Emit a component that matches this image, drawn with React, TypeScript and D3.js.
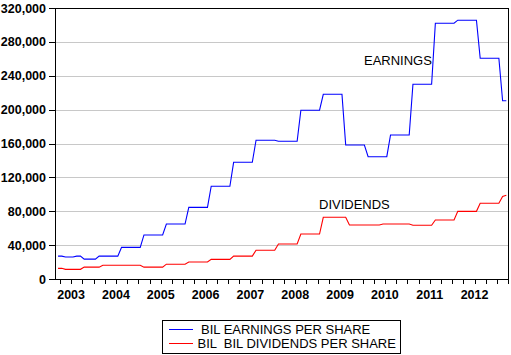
import React from 'react';
import * as d3 from 'd3';

// Monthly observations, March 2003 .. March 2013
const startYear = 2003;
const startMonth = 3;
const nObs = 121;

// Step runs: month index where each level begins, and the level
const earningsRunStarts = [0, 2, 5, 7, 11, 17, 23, 29, 35, 41, 47, 53, 59, 65, 71, 77, 83, 89, 95, 101, 107, 113, 119];
const earningsRunValues = [27000, 26000, 27000, 23500, 27000, 37400, 52000, 64900, 84600, 109500, 137800, 163800, 162600, 199300, 218100, 158200, 144400, 170000, 229900, 302000, 305600, 260600, 210500];

const dividendsRunStarts = [0, 2, 7, 12, 23, 29, 35, 41, 47, 53, 59, 65, 71, 78, 87, 95, 101, 107, 113, 119, 120];
const dividendsRunValues = [12600, 11400, 14000, 16300, 14000, 17500, 20000, 23200, 27000, 34000, 41300, 53100, 72900, 63800, 64900, 63400, 69700, 79900, 89400, 97500, 99000];

const yTicks = [0, 40000, 80000, 120000, 160000, 200000, 240000, 280000, 320000];
const yearLabels = [2003, 2004, 2005, 2006, 2007, 2008, 2009, 2010, 2011, 2012];
const seriesNames = ['BIL EARNINGS PER SHARE', 'BIL  BIL DIVIDENDS PER SHARE'];
const annotationTexts = ['EARNINGS', 'DIVIDENDS'];

function expandRuns(starts: number[], values: number[]): number[] {
  const out: number[] = [];
  let r = 0;
  for (let i = 0; i < nObs; i++) {
    while (r + 1 < starts.length && starts[r + 1] <= i) r++;
    out.push(values[r]);
  }
  return out;
}

const earnings = expandRuns(earningsRunStarts, earningsRunValues);
const dividends = expandRuns(dividendsRunStarts, dividendsRunValues);

const timeOf = (i: number) => startYear + (startMonth - 1 + i + 0.5) / 12;

const W = 511;
const H = 355;
const L = 55, R = 508, T = 8, B = 279;

export default function App() {
  const x = d3.scaleLinear().domain([2003.1405, 2013.2454]).range([L, R]);
  const y = d3.scaleLinear().domain([0, 320000]).range([B, T]);

  const line = d3.line<number>()
    .x((_, i) => x(timeOf(i)))
    .y((d) => y(d));

  const quarterTicks: number[] = [];
  for (let q = 2003.25; q <= 2013.25 + 1e-6; q += 0.25) quarterTicks.push(q);

  const font = "'Liberation Sans', Arial, sans-serif";

  return (
    <svg width={W} height={H} style={{ position: 'absolute', left: 0, top: 0, background: '#fff' }}
      fontFamily={font}>
      <rect x={0} y={0} width={W} height={H} fill="#fff" />
      {/* grid */}
      {yTicks.filter((v) => v > 0 && v < 320000).map((v) => (
        <line key={'g' + v} x1={L} x2={R} y1={Math.round(y(v)) + 0.5} y2={Math.round(y(v)) + 0.5}
          stroke="#c8c8c8" strokeWidth={1} shapeRendering="crispEdges" />
      ))}
      {/* y ticks & labels */}
      {yTicks.map((v) => (
        <g key={'y' + v}>
          <line x1={L - 6} x2={L} y1={Math.round(y(v)) + 0.5} y2={Math.round(y(v)) + 0.5}
            stroke="#000" shapeRendering="crispEdges" />
          <text x={46} y={y(v)} dy="0.36em" textAnchor="end" fontWeight="bold" fontSize={12.5} fill="#000">
            {d3.format(',')(v)}
          </text>
        </g>
      ))}
      {/* x ticks */}
      {quarterTicks.map((q) => (
        <line key={'q' + q} x1={Math.round(x(q)) + 0.5} x2={Math.round(x(q)) + 0.5} y1={B + 0.5} y2={B + 4.5}
          stroke="#000" shapeRendering="crispEdges" />
      ))}
      {yearLabels.map((yr) => (
        <text key={'yr' + yr} x={x(yr + 0.5)} y={299} textAnchor="middle" fontWeight="bold" fontSize={12.5} fill="#000">
          {yr}
        </text>
      ))}
      {/* series */}
      <path d={line(earnings) || ''} fill="none" stroke="#0000ff" strokeWidth={1.1} />
      <path d={line(dividends) || ''} fill="none" stroke="#ff0000" strokeWidth={1.1} />
      {/* frame */}
      <rect x={L + 0.5} y={T + 0.5} width={R - L} height={B - T} fill="none" stroke="#000" strokeWidth={1}
        shapeRendering="crispEdges" />
      {/* annotations */}
      <text x={364} y={65} fontSize={13} fill="#000">{annotationTexts[0]}</text>
      <text x={319} y={209} fontSize={13} fill="#000">{annotationTexts[1]}</text>
      {/* legend */}
      <rect x={162.5} y={320.5} width={238} height={33} fill="#fff" stroke="#000" shapeRendering="crispEdges" />
      <line x1={169} x2={193} y1={329.5} y2={329.5} stroke="#0000ff" shapeRendering="crispEdges" />
      <line x1={169} x2={193} y1={343.5} y2={343.5} stroke="#ff0000" shapeRendering="crispEdges" />
      <text x={201} y={334} fontSize={13} fill="#000" style={{ whiteSpace: 'pre' }}>{seriesNames[0]}</text>
      <text x={197.5} y={348} fontSize={13} fill="#000" style={{ whiteSpace: 'pre' }}>{seriesNames[1]}</text>
    </svg>
  );
}
